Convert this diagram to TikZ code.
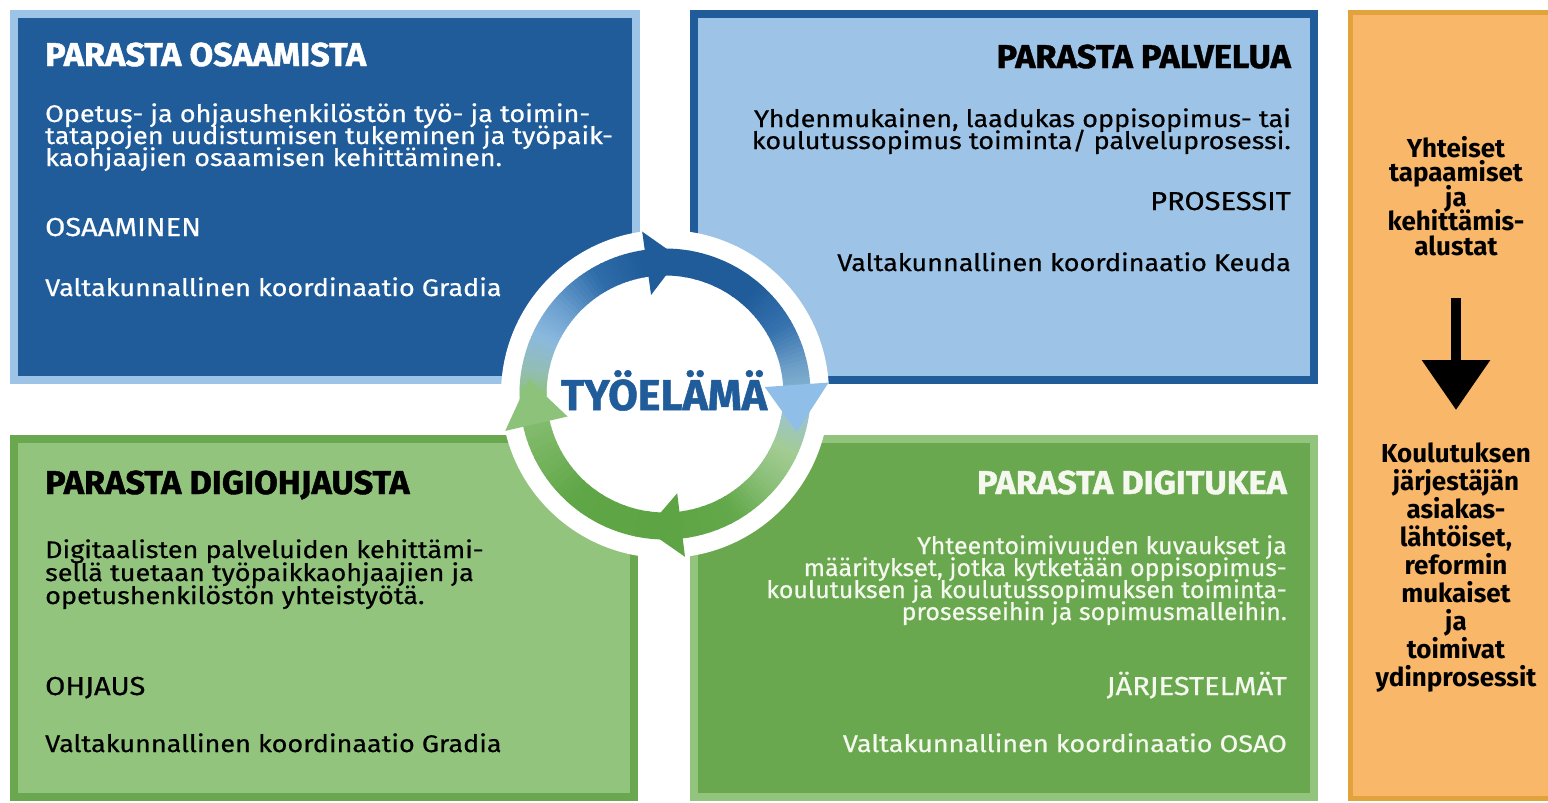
\documentclass[tikz,border=0pt]{standalone}
\usepackage{fontspec}
\setmainfont{Fira Sans}[UprightFeatures={FakeBold=0.6}, BoldFeatures={FakeBold=1.2}]
\newfontfamily\widef{Fira Sans}[FakeStretch=1.04, UprightFeatures={FakeBold=0.6}, BoldFeatures={FakeBold=1.2}]
\newfontfamily\bodyf{Fira Sans}[FakeStretch=1.125, UprightFeatures={FakeBold=0.6}]
\newfontfamily\capsf{Fira Sans}[FakeStretch=1.12, UprightFeatures={FakeBold=0.6}]
\newfontfamily\orf{Fira Sans}
\usetikzlibrary{arrows.meta}
\definecolor{dblue}{HTML}{1F5C99}
\definecolor{lblue}{HTML}{9DC3E6}
\definecolor{lgreen}{HTML}{93C47D}
\definecolor{mgreen}{HTML}{6AA84F}
\definecolor{orfill}{HTML}{F9B769}
\definecolor{ordraw}{HTML}{E2A23C}
\definecolor{brtext}{HTML}{F4F8EE}
% ring colour stops
\definecolor{rA}{HTML}{8DC27B}
\definecolor{rB}{HTML}{7CB866}
\definecolor{rC}{HTML}{5FA646}
\definecolor{rD}{HTML}{5DA444}
\definecolor{rE}{HTML}{63A94B}
\definecolor{rF}{HTML}{8CC07A}
\definecolor{rG}{HTML}{A3CC93}
\definecolor{rH}{HTML}{9CC4CC}
\definecolor{rI}{HTML}{86B5D0}
\definecolor{rJ}{HTML}{6E9FC8}
\definecolor{rK}{HTML}{3572AE}
\definecolor{rL}{HTML}{1F5C99}
\definecolor{rM}{HTML}{2F6DAA}
\definecolor{rN}{HTML}{6A9FCF}
\definecolor{rO}{HTML}{8BB9DE}
\definecolor{rP}{HTML}{93BDB4}
\definecolor{headR}{HTML}{8FBFE8}
\newcommand\ringpart[4]{%
  \foreach \k in {0,...,9}{%
    \pgfmathsetmacro\aa{#1+(#2-#1)*\k/10}%
    \pgfmathsetmacro\ab{#1+(#2-#1)*(\k+1)/10+0.5}%
    \pgfmathtruncatemacro\pp{95-\k*10}%
    \draw[line width=27pt, color=#3!\pp!#4] (\aa:132) arc[start angle=\aa, end angle=\ab, radius=132];
  }}
\tikzset{
  boxline/.style={line width=8pt},
  ttl/.style={inner sep=0pt, font=\widef\fontsize{33}{33}\selectfont\bfseries},
  txt/.style={inner sep=0pt, text height=16pt, text depth=4pt, font=\bodyf\fontsize{24}{24}\selectfont},
  brtxt/.style={inner sep=0pt, text height=16pt, text depth=4pt, font=\widef\fontsize{24}{24}\selectfont},
  capline/.style={inner sep=0pt, font=\capsf\fontsize{26}{26}\selectfont},
  otxt/.style={inner sep=0pt, anchor=base, text height=17pt, text depth=4pt, font=\orf\fontsize{26}{26}\selectfont\bfseries},
}
\begin{document}
\begin{tikzpicture}[x=1pt,y=-1pt]
\useasboundingbox (0,0) rectangle (1548,803);
\fill[white] (0,0) rectangle (1548,803);
% boxes
\path[boxline, fill=dblue, draw=lblue] (14,14) rectangle (636,380);
\path[boxline, fill=lblue, draw=dblue] (694,14) rectangle (1314,380);
\path[boxline, fill=lgreen, draw=mgreen] (14,439) rectangle (634,797);
\path[boxline, fill=mgreen, draw=lgreen] (694,439) rectangle (1314,797);
\path[line width=5pt, fill=orfill, draw=ordraw] (1350.5,12.5) rectangle (1560,798.5);
% white disc and ring
\fill[white] (665,394) circle[radius=164];
\begin{scope}[shift={(665,394)}, y=1pt]
  \ringpart{-180}{-160}{rA}{rB}
  \ringpart{-160}{-130}{rB}{rC}
  \ringpart{-130}{-90}{rC}{rD}
  \ringpart{-90}{-60}{rD}{rE}
  \ringpart{-60}{-40}{rE}{rF}
  \ringpart{-40}{-25}{rF}{rG}
  \ringpart{-25}{-10}{rG}{rH}
  \ringpart{-10}{0}{rH}{rI}
  \ringpart{0}{12}{rI}{rJ}
  \ringpart{12}{30}{rJ}{rK}
  \ringpart{30}{50}{rK}{rL}
  \ringpart{50}{100}{rL}{rL}
  \ringpart{100}{120}{rL}{rM}
  \ringpart{120}{140}{rM}{rN}
  \ringpart{140}{155}{rN}{rO}
  \ringpart{155}{170}{rO}{rP}
  \ringpart{170}{180}{rP}{rA}
  % arrow heads
  \fill[dblue] (98:100) -- (98:164) -- (84:137) -- cycle;
  \fill[headR] (4:100) -- (4:164) -- (-16:137) -- cycle;
  \fill[rD] (-83:100) -- (-83:164) -- (-98:137) -- cycle;
  \fill[rA] (-167:100) -- (-167:164) -- (174:137) -- cycle;
\end{scope}
\node[inner sep=0pt, anchor=base, text=dblue, font=\fontsize{43}{43}\selectfont\bfseries] (work) at (664,410) {TYÖELÄMÄ};
% top left
\node[ttl, anchor=base west, text=white] (tlh) at (45,66) {PARASTA OSAAMISTA};
\node[txt, anchor=base west, text=white] (tl1) at (45,122) {Opetus- ja ohjaushenkilöstön työ- ja toimin-};
\node[txt, anchor=base west, text=white] (tl2) at (45,144) {tatapojen uudistumisen tukeminen ja työpaik-};
\node[txt, anchor=base west, text=white] (tl3) at (45,166) {kaohjaajien osaamisen kehittäminen.};
\node[capline, anchor=base west, text=white] (tl4) at (45,236) {OSAAMINEN};
\node[txt, anchor=base west, text=white] (tl5) at (45,296) {Valtakunnallinen koordinaatio Gradia};
% top right
\node[ttl, anchor=base east, text=black] (trh) at (1291,68) {PARASTA PALVELUA};
\node[txt, anchor=base east, text=black] (tr1) at (1291,127) {Yhdenmukainen, laadukas oppisopimus- tai};
\node[txt, anchor=base east, text=black] (tr2) at (1291,149) {koulutussopimus toiminta/ palveluprosessi.};
\node[capline, anchor=base east, text=black] (tr3) at (1291,210) {PROSESSIT};
\node[txt, anchor=base east, text=black] (tr4) at (1291,271) {Valtakunnallinen koordinaatio Keuda};
% bottom left
\node[ttl, anchor=base west, text=black] (blh) at (45,494) {PARASTA DIGIOHJAUSTA};
\node[txt, anchor=base west, text=black] (bl1) at (45,558) {Digitaalisten palveluiden kehittämi-};
\node[txt, anchor=base west, text=black] (bl2) at (45,581) {sellä tuetaan työpaikkaohjaajien ja};
\node[txt, anchor=base west, text=black] (bl3) at (45,604) {opetushenkilöstön yhteistyötä.};
\node[capline, anchor=base west, text=black] (bl4) at (45,695) {OHJAUS};
\node[txt, anchor=base west, text=black] (bl5) at (45,752) {Valtakunnallinen koordinaatio Gradia};
% bottom right
\node[ttl, anchor=base east, text=brtext] (brh) at (1287,494) {PARASTA DIGITUKEA};
\node[brtxt, anchor=base east, text=brtext] (br1) at (1287,554) {Yhteentoimivuuden kuvaukset ja};
\node[brtxt, anchor=base east, text=brtext] (br2) at (1287,576) {määritykset, jotka kytketään oppisopimus-};
\node[brtxt, anchor=base east, text=brtext] (br3) at (1287,598) {koulutuksen ja koulutussopimuksen toiminta-};
\node[brtxt, anchor=base east, text=brtext] (br4) at (1287,620) {prosesseihin ja sopimusmalleihin.};
\node[capline, anchor=base east, text=brtext] (br5) at (1287,695) {JÄRJESTELMÄT};
\node[txt, anchor=base east, text=brtext] (br6) at (1287,752) {Valtakunnallinen koordinaatio OSAO};
% orange panel
\node[otxt] (o1) at (1456,157) {Yhteiset};
\node[otxt] (o2) at (1456,181.5) {tapaamiset};
\node[otxt] (o3) at (1456,206) {ja};
\node[otxt] (o4) at (1456,230.5) {kehittämis-};
\node[otxt] (o5) at (1456,255) {alustat};
\node[otxt] (o6) at (1456,462) {Koulutuksen};
\node[otxt] (o7) at (1456,490) {järjestäjän};
\node[otxt] (o8) at (1456,518) {asiakas-};
\node[otxt] (o9) at (1456,546) {lähtöiset,};
\node[otxt] (o10) at (1456,574) {reformin};
\node[otxt] (o11) at (1456,602) {mukaiset};
\node[otxt] (o12) at (1456,630) {ja};
\node[otxt] (o13) at (1456,658) {toimivat};
\node[otxt] (o14) at (1456,686) {ydinprosessit};
\coordinate (atop) at (1456,298);
\coordinate (atip) at (1456,410);
\draw[line width=10pt, -{Triangle[length=50pt,width=66pt]}] (atop) -- (atip);
\end{tikzpicture}
\end{document}
